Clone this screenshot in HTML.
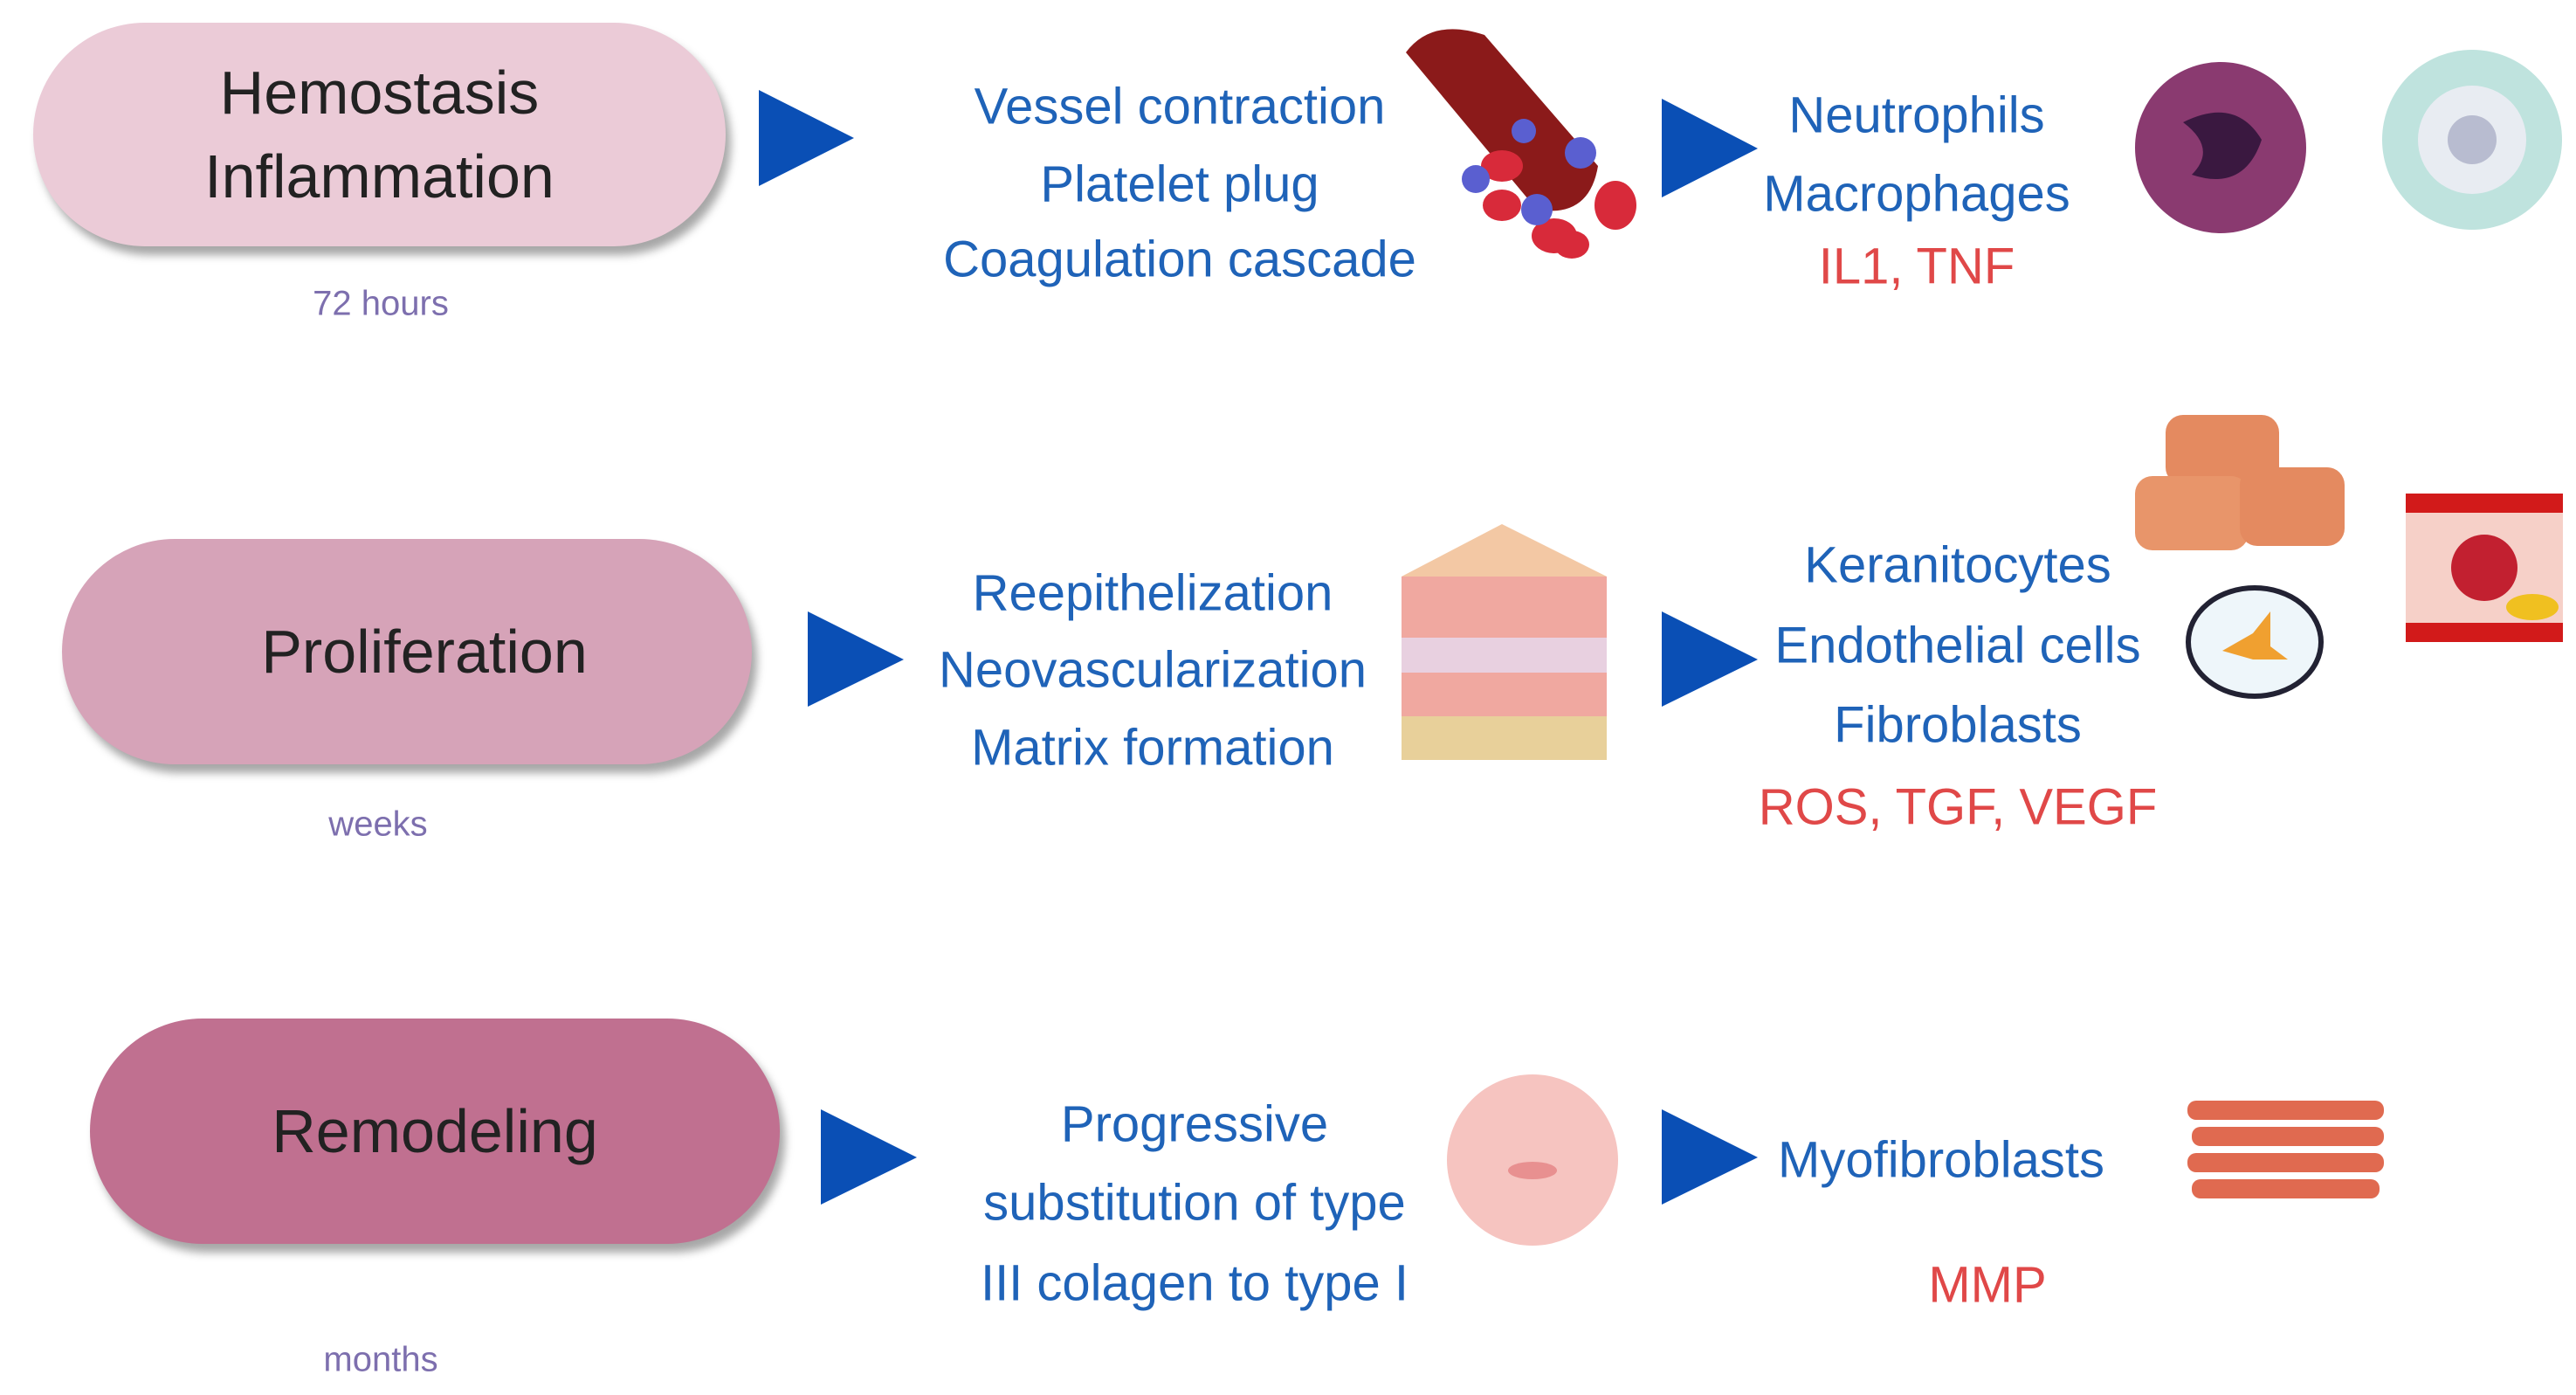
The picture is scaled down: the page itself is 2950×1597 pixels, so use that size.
<!DOCTYPE html>
<html><head><meta charset="utf-8"><style>
body{margin:0;width:2950px;height:1597px;background:#fff;position:relative;overflow:hidden;font-family:"Liberation Sans",sans-serif}
.pill{position:absolute;border-radius:140px;box-shadow:6px 10px 10px rgba(0,0,0,.35);display:flex;align-items:center;justify-content:center;text-align:center;font-size:70px;color:#222;line-height:96px}
.t{position:absolute;transform:translate(-50%,-50%);white-space:nowrap;font-size:58px;color:#1f63b8}
.r{color:#e04848}
.s{position:absolute;transform:translate(-50%,-50%);font-size:40px;color:#7d6fae}
svg{position:absolute;left:0;top:0}
</style></head><body>
<div class="pill" style="left:38px;top:26px;width:793px;height:256px;background:#ebcbd7">Hemostasis<br>Inflammation</div>
<div class="pill" style="left:71px;top:617px;width:790px;height:258px;background:#d6a3b8"><span style="margin-left:40px">Proliferation</span></div>
<div class="pill" style="left:103px;top:1166px;width:790px;height:258px;background:#c07090">Remodeling</div>
<div class="s" style="left:436px;top:348px">72 hours</div>
<div class="s" style="left:433px;top:944px">weeks</div>
<div class="s" style="left:436px;top:1557px">months</div>
<svg width="2950" height="1597">
<g fill="#0a4fb5">
<polygon points="869,103 978,158 869,213"/>
<polygon points="925,700 1035,755 925,809"/>
<polygon points="940,1270 1050,1325 940,1379"/>
<polygon points="1903,113 2013,170 1903,226"/>
<polygon points="1903,700 2013,755 1903,809"/>
<polygon points="1903,1270 2013,1325 1903,1379"/>
</g>
<path d="M1610,60 Q1640,20 1700,40 L1830,190 Q1820,250 1760,240 Z" fill="#8b1a1a"/>
<g fill="#d82a3a"><ellipse cx="1720" cy="190" rx="24" ry="18"/><ellipse cx="1780" cy="270" rx="26" ry="20"/><ellipse cx="1850" cy="235" rx="24" ry="28"/><ellipse cx="1720" cy="235" rx="22" ry="18"/><ellipse cx="1800" cy="280" rx="20" ry="16"/></g>
<g fill="#5a5fd0"><circle cx="1690" cy="205" r="16"/><circle cx="1810" cy="175" r="18"/><circle cx="1760" cy="240" r="18"/><circle cx="1745" cy="150" r="14"/></g>
<circle cx="2543" cy="169" r="98" fill="#8a3a70"/><path d="M2500,140 Q2560,110 2590,160 Q2570,220 2510,200 Q2540,170 2500,140Z" fill="#3a1840"/>
<circle cx="2831" cy="160" r="103" fill="#bfe3de"/><circle cx="2831" cy="160" r="62" fill="#e8ecf2"/><circle cx="2831" cy="160" r="28" fill="#b8bcd0"/>
<polygon points="1605,660 1720,600 1840,660 1720,720" fill="#f3c8a4"/>
<rect x="1605" y="660" width="235" height="190" fill="#f0a8a0"/>
<rect x="1605" y="730" width="235" height="40" fill="#e8d0e0"/>
<rect x="1605" y="820" width="235" height="50" fill="#e8d09a"/>
<rect x="2480" y="475" width="130" height="80" rx="20" fill="#e48a60"/>
<rect x="2445" y="545" width="130" height="85" rx="20" fill="#e8956a"/>
<rect x="2565" y="535" width="120" height="90" rx="20" fill="#e48a60"/>
<ellipse cx="2582" cy="735" rx="76" ry="62" fill="#eef6fa" stroke="#223" stroke-width="6"/>
<path d="M2545,745 L2580,725 L2600,700 L2600,740 L2620,755 L2580,755Z" fill="#f0a030"/>
<rect x="2755" y="565" width="180" height="170" fill="#f6d0c8"/>
<rect x="2755" y="565" width="180" height="22" fill="#d21a1a"/><rect x="2755" y="713" width="180" height="22" fill="#d21a1a"/>
<circle cx="2845" cy="650" r="38" fill="#c22030"/><ellipse cx="2900" cy="695" rx="30" ry="15" fill="#f0c020"/>
<circle cx="1755" cy="1328" r="98" fill="#f6c4c0"/><ellipse cx="1755" cy="1340" rx="28" ry="10" fill="#e89090"/>
<g fill="#e06a50"><rect x="2505" y="1260" width="225" height="22" rx="10"/><rect x="2510" y="1290" width="220" height="22" rx="10"/><rect x="2505" y="1320" width="225" height="22" rx="10"/><rect x="2510" y="1350" width="215" height="22" rx="10"/></g>
</svg>
<div class="t" style="left:1351px;top:122px">Vessel contraction</div>
<div class="t" style="left:1351px;top:211px">Platelet plug</div>
<div class="t" style="left:1351px;top:297px">Coagulation cascade</div>
<div class="t" style="left:1320px;top:679px">Reepithelization</div>
<div class="t" style="left:1320px;top:767px">Neovascularization</div>
<div class="t" style="left:1320px;top:856px">Matrix formation</div>
<div class="t" style="left:1368px;top:1287px">Progressive</div>
<div class="t" style="left:1368px;top:1377px">substitution of type</div>
<div class="t" style="left:1368px;top:1469px">III colagen to type I</div>
<div class="t" style="left:2195px;top:132px">Neutrophils</div>
<div class="t" style="left:2195px;top:222px">Macrophages</div>
<div class="t r" style="left:2195px;top:305px">IL1, TNF</div>
<div class="t" style="left:2242px;top:647px">Keranitocytes</div>
<div class="t" style="left:2242px;top:739px">Endothelial cells</div>
<div class="t" style="left:2242px;top:830px">Fibroblasts</div>
<div class="t r" style="left:2242px;top:924px">ROS, TGF, VEGF</div>
<div class="t" style="left:2223px;top:1328px">Myofibroblasts</div>
<div class="t r" style="left:2276px;top:1471px">MMP</div>
</body></html>
